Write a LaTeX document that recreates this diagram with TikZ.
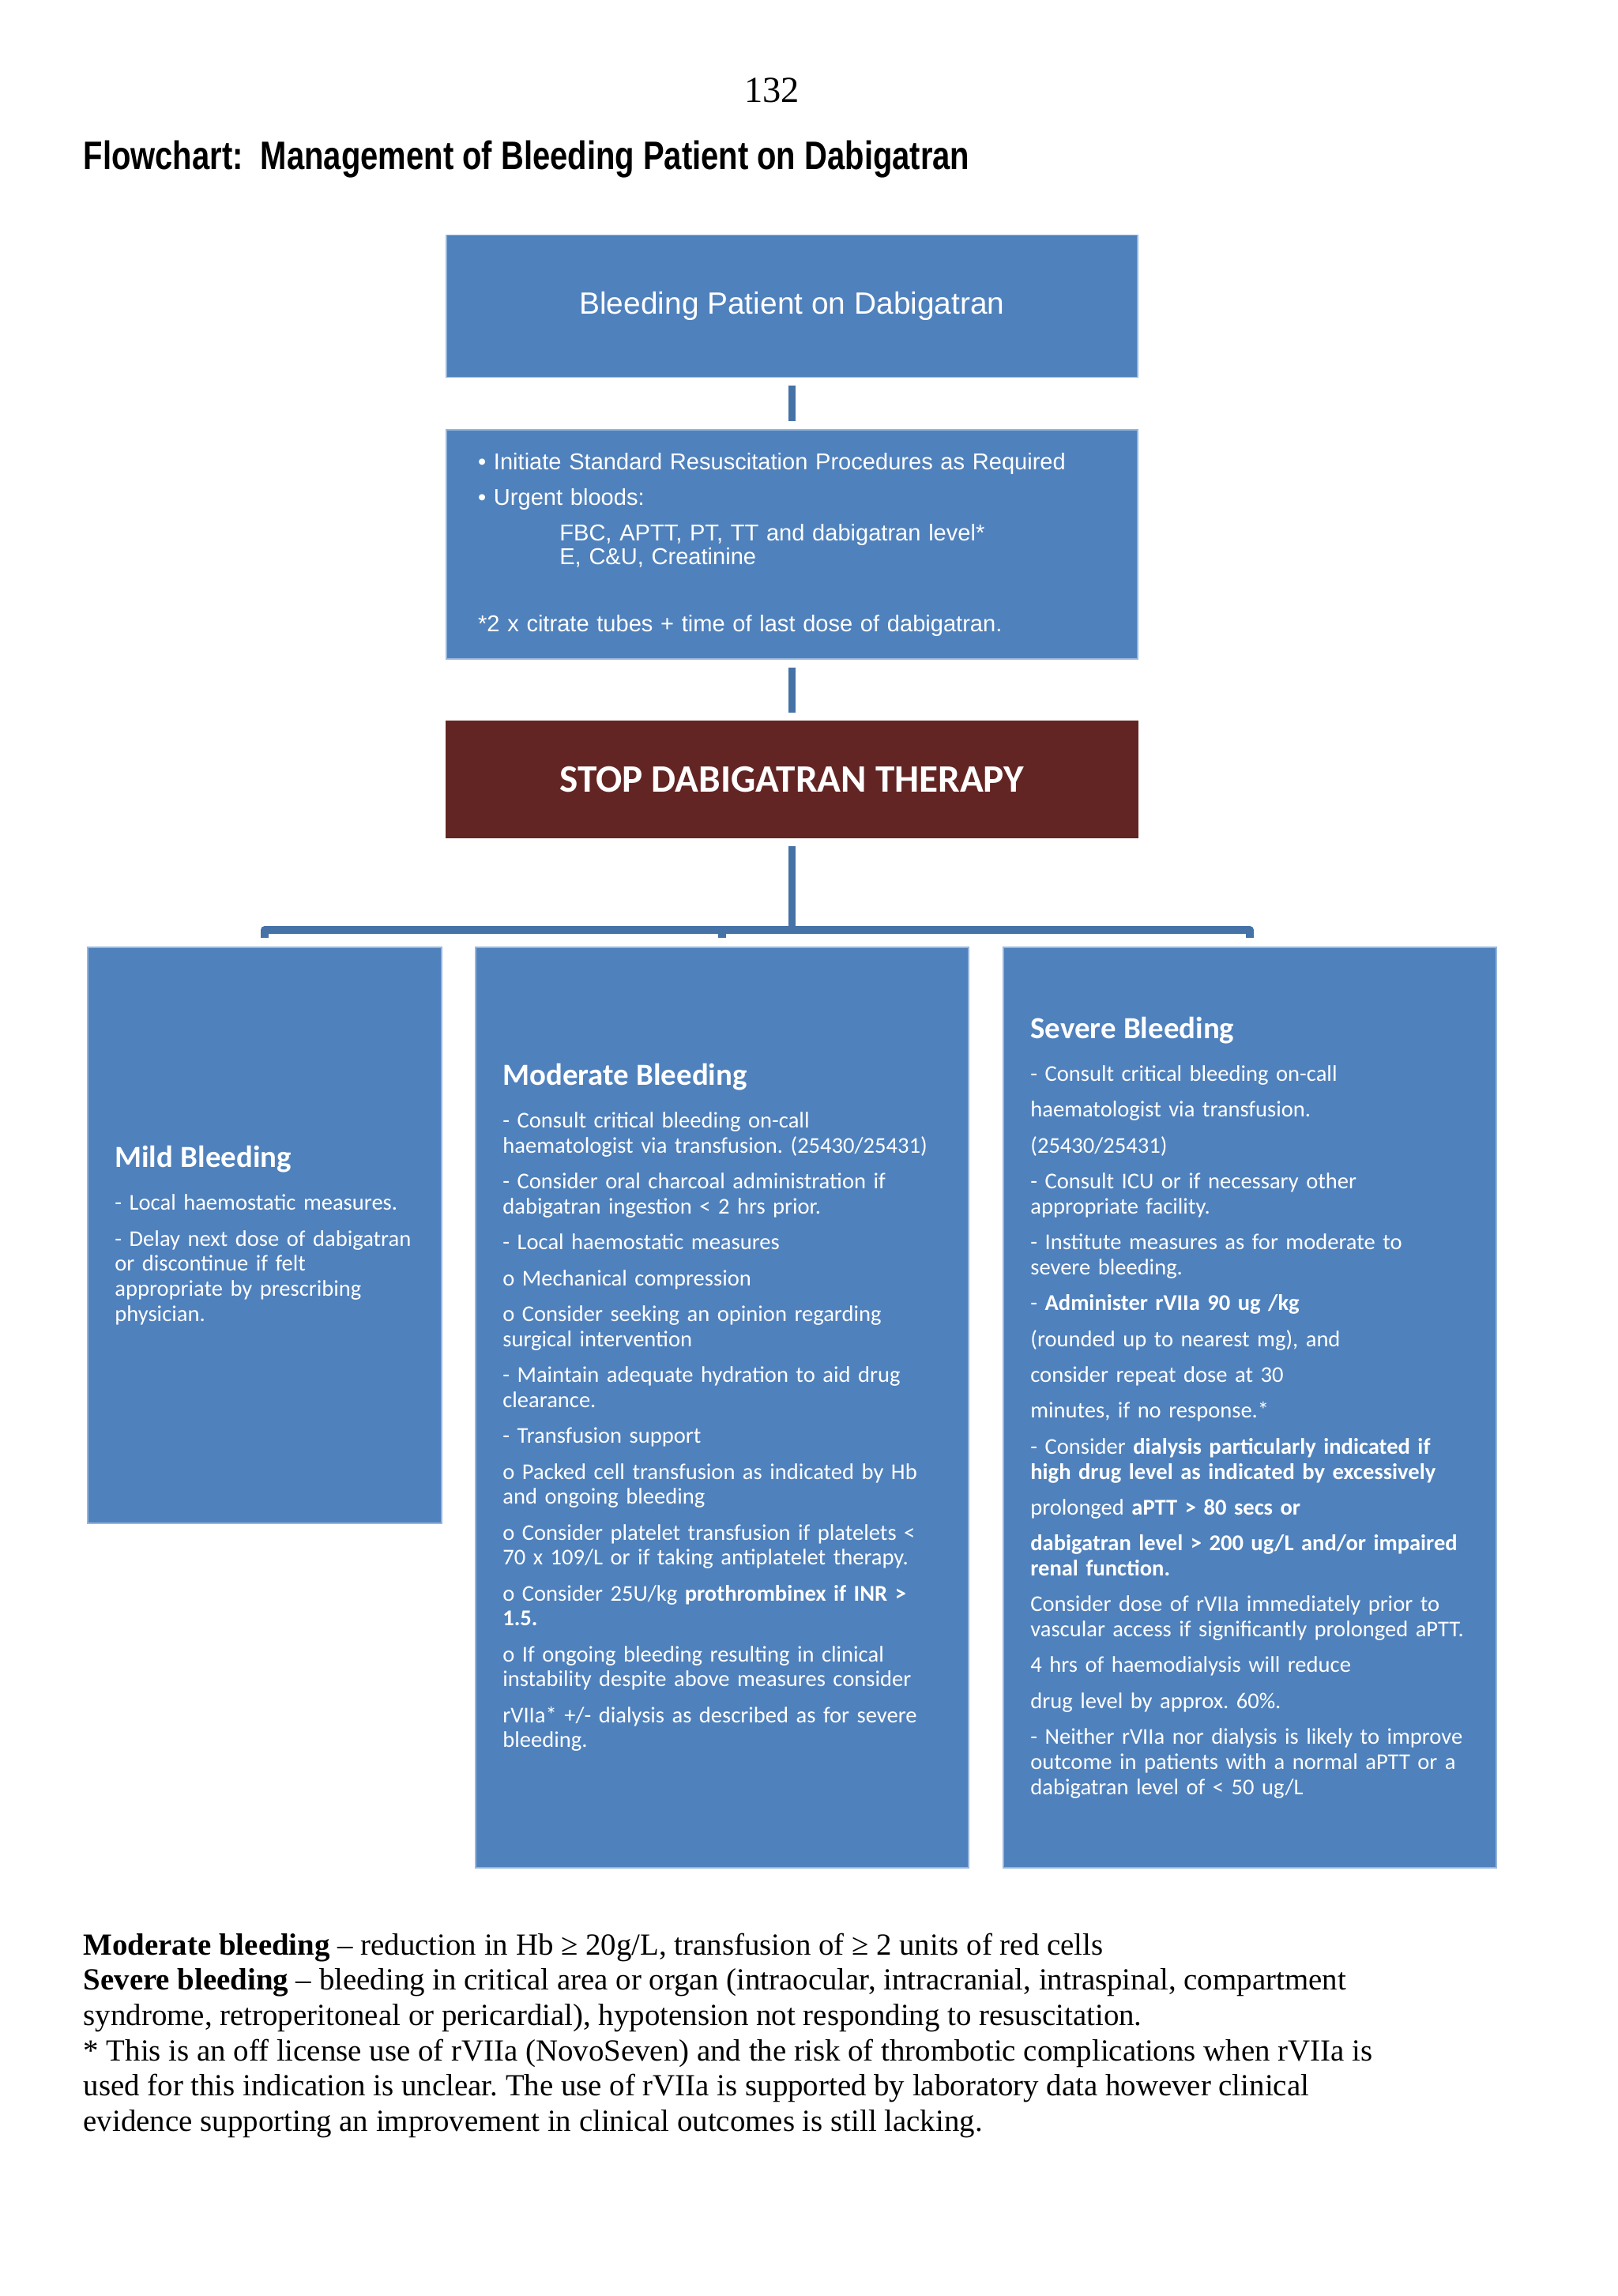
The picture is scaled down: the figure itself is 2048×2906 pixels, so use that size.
\documentclass[tikz,border=0pt]{standalone}
\usepackage{fontspec}
\usepackage{graphicx}
\usetikzlibrary{calc}
\setmainfont{Liberation Serif}
\newfontfamily\arialfont{Liberation Sans}
\newfontfamily\calibrifont{Carlito}
\definecolor{boxblue}{RGB}{79,129,189}
\definecolor{edgeblue}{RGB}{150,182,220}
\definecolor{linkblue}{RGB}{69,114,167}
\definecolor{stopred}{RGB}{99,37,35}
\newcommand{\pgap}{\\[4pt]}
\newcommand{\tgap}{\\[6.5pt]}
\hyphenpenalty=10000
\exhyphenpenalty=10000
\frenchspacing

\begin{document}
\begin{tikzpicture}[x=0.29066pt, y=-0.29066pt,
  blockbox/.style={fill=boxblue, draw=edgeblue, line width=0.4pt, text=white, inner sep=0pt},
  flowbox/.style={blockbox, minimum width=254.3pt},
  casebox/.style={blockbox, align=left, inner xsep=10pt,
    font=\calibrifont\fontsize{8.3}{9.2}\selectfont},
  link/.style={line width=2.9pt, linkblue, line join=round},
  gap/.style={shorten <=2.9pt, shorten >=2.9pt}
]
  % Fixed bounding box (whole page)
  \path[use as bounding box] (0,0) rectangle (2048,2906);

  % ---- Page number and title ----
  \node[anchor=base, inner sep=0pt, font=\fontsize{13.5}{15}\selectfont] (pagenum) at (977,129) {132};
  \node[anchor=base west, inner sep=0pt] (title) at (105,214)
    {\resizebox{326pt}{10.6pt}{\arialfont\bfseries Flowchart:\ \ Management of Bleeding Patient on Dabigatran}};

  % ---- Top three steps ----
  \node[flowbox, minimum height=52.2pt, font=\arialfont\fontsize{11.3}{13}\selectfont] (patient) at (1002.5,387.5)
    {Bleeding Patient on Dabigatran};

  \node[flowbox, minimum height=84.3pt, inner xsep=11.6pt, text width=231pt, align=left,
        font=\arialfont\fontsize{8.45}{8.7}\selectfont] (bloods) at (1002.5,689)
    {\textbullet\ Initiate Standard Resuscitation Procedures as Required\\[4.4pt]
     \textbullet\ Urgent bloods:\\[4.4pt]
     \hspace*{30pt}FBC, APTT, PT, TT and dabigatran level*\\
     \hspace*{30pt}E, C\&U, Creatinine\\[16pt]
     *2 x citrate tubes + time of last dose of dabigatran.};

  \node[fill=stopred, draw=stopred, text=white, inner sep=0pt, minimum width=254.3pt, minimum height=42.7pt,
        font=\calibrifont\bfseries\fontsize{14.3}{16}\selectfont] (stop) at (1002.5,986.5)
    {STOP DABIGATRAN THERAPY};

  % ---- Three bleeding grades ----
  \node[casebox, minimum width=130.2pt, minimum height=211.9pt, text width=110.2pt] (mild) at (335,1563.5)
    {{\fontsize{11.3}{9.2}\selectfont\bfseries Mild Bleeding}\tgap
     - Local haemostatic measures.\pgap
     - Delay next dose of dabigatran\\
     or discontinue if felt\\
     appropriate by prescribing\\
     physician.};

  \node[casebox, minimum width=181.4pt, minimum height=338.6pt, text width=161.4pt] (moderate) at (914,1781.5)
    {{\fontsize{11.3}{9.2}\selectfont\bfseries Moderate Bleeding}\tgap
     - Consult critical bleeding on-call\\
     haematologist via transfusion. (25430/25431)\pgap
     - Consider oral charcoal administration if\\
     dabigatran ingestion < 2 hrs prior.\pgap
     - Local haemostatic measures\pgap
     o Mechanical compression\pgap
     o Consider seeking an opinion regarding\\
     surgical intervention\pgap
     - Maintain adequate hydration to aid drug\\
     clearance.\pgap
     - Transfusion support\pgap
     o Packed cell transfusion as indicated by Hb\\
     and ongoing bleeding\pgap
     o Consider platelet transfusion if platelets <\\
     70 x 109/L or if taking antiplatelet therapy.\pgap
     o Consider 25U/kg \textbf{prothrombinex if INR >}\\
     \textbf{1.5.}\pgap
     o If ongoing bleeding resulting in clinical\\
     instability despite above measures consider\pgap
     rVIIa* +/- dialysis as described as for severe\\
     bleeding.};

  \node[casebox, minimum width=181.4pt, minimum height=338.6pt, text width=161.4pt] (severe) at (1582,1781.5)
    {{\fontsize{11.3}{9.2}\selectfont\bfseries Severe Bleeding}\tgap
     - Consult critical bleeding on-call\pgap
     haematologist via transfusion.\pgap
     (25430/25431)\pgap
     - Consult ICU or if necessary other\\
     appropriate facility.\pgap
     - Institute measures as for moderate to\\
     severe bleeding.\pgap
     - \textbf{Administer rVIIa 90 ug /kg}\pgap
     (rounded up to nearest mg), and\pgap
     consider repeat dose at 30\pgap
     minutes, if no response.*\pgap
     - Consider \textbf{dialysis particularly indicated if}\\
     \textbf{high drug level as indicated by excessively}\pgap
     prolonged \textbf{aPTT > 80 secs or}\pgap
     \textbf{dabigatran level > 200 ug/L and/or impaired}\\
     \textbf{renal function.}\pgap
     Consider dose of rVIIa immediately prior to\\
     vascular access if significantly prolonged aPTT.\pgap
     4 hrs of haemodialysis will reduce\pgap
     drug level by approx. 60\%.\pgap
     - Neither rVIIa nor dialysis is likely to improve\\
     outcome in patients with a normal aPTT or a\\
     dabigatran level of < 50 ug/L};

  % ---- Connectors ----
  \draw[link, gap] (patient) -- (bloods);
  \draw[link, gap] (bloods) -- (stop);
  \coordinate (fork) at (1002.5,1177);
  \draw[link, shorten <=2.9pt] (stop) -- (fork);
  \draw[link] ($(mild.north)+(0,-11)$) |- (fork) -| ($(severe.north)+(0,-11)$);
  \draw[link] (fork -| moderate.north) -- ($(moderate.north)+(0,-11)$);

  % ---- Definitions below the chart ----
  \node[anchor=north west, align=left, inner sep=0pt, font=\fontsize{11.3}{13}\selectfont] (notes) at (105,2446)
    {\textbf{Moderate bleeding} – reduction in Hb ≥ 20g/L, transfusion of ≥ 2 units of red cells\\
     \textbf{Severe bleeding} – bleeding in critical area or organ (intraocular, intracranial, intraspinal, compartment\\
     syndrome, retroperitoneal or pericardial), hypotension not responding to resuscitation.\\
     * This is an off license use of rVIIa (NovoSeven) and the risk of thrombotic complications when rVIIa is\\
     used for this indication is unclear. The use of rVIIa is supported by laboratory data however clinical\\
     evidence supporting an improvement in clinical outcomes is still lacking.};
\end{tikzpicture}
\end{document}
